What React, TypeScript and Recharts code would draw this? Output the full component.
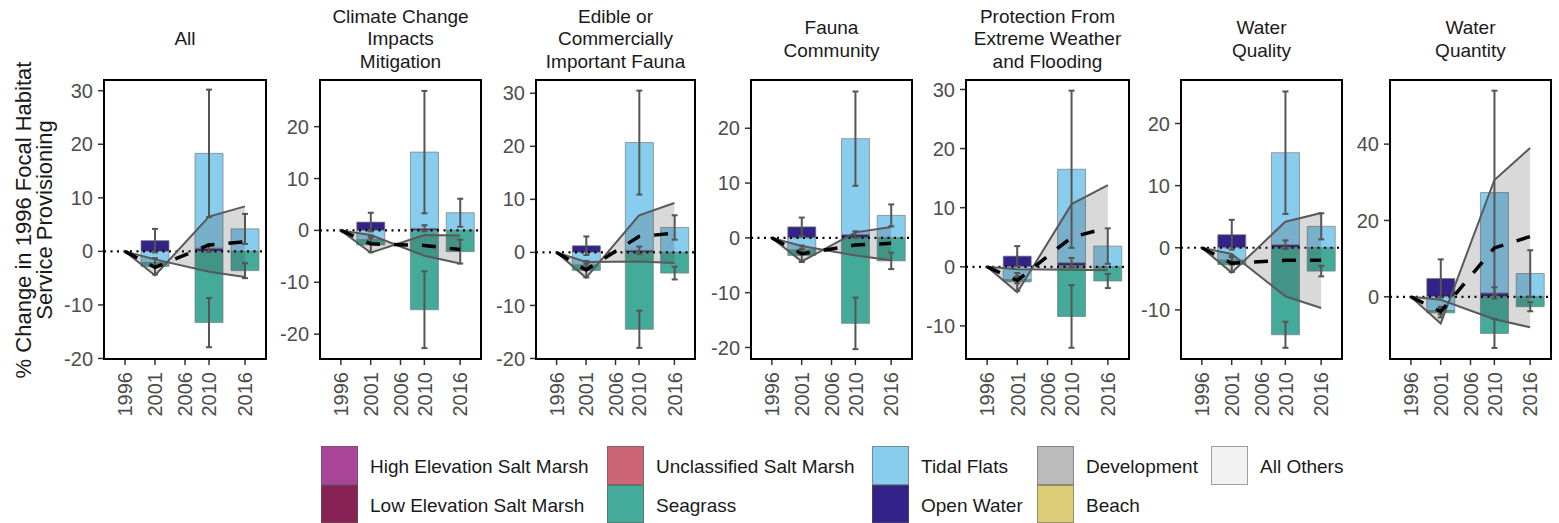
import React from "react";
import {
  Area,
  Bar,
  ComposedChart,
  ErrorBar,
  Line,
  ReferenceArea,
  ReferenceLine,
  XAxis,
  YAxis,
} from "recharts";

const FONT = '"Liberation Sans", Arial, sans-serif';

// survey years with data, and the year ticks on the x axis
const years = [1996, 2001, 2010, 2016];
const yearTicks = [1996, 2001, 2006, 2010, 2016];

const panelTitles = [
  ["All"],
  ["Climate Change", "Impacts", "Mitigation"],
  ["Edible or", "Commercially", "Important Fauna"],
  ["Fauna", "Community"],
  ["Protection From", "Extreme Weather", "and Flooding"],
  ["Water", "Quality"],
  ["Water", "Quantity"],
];

// one row per panel, one value per survey year
const beach = [
  [0, 0, 0, 0],
  [0, 0, 0, 0],
  [0, 0, 0, 0],
  [0, 0, 0, 0],
  [0, 0, 0.2, 0],
  [0, 0, 0, 0],
  [0, 0, 0, 0],
];
const openWater = [
  [0, 2.0, 0.6, 0],
  [0, 1.6, 0.4, 0],
  [0, 1.25, 0.4, 0],
  [0, 2.0, 0.6, 0],
  [0, 1.8, 0.5, 0],
  [0, 2.1, 0.5, 0],
  [0, 4.8, 1.0, 0],
];
const tidalFlats = [
  [0, -2.1, 17.7, 4.2],
  [0, -1.8, 14.7, 3.4],
  [0, -2.4, 20.3, 4.7],
  [0, -2.2, 17.5, 4.1],
  [0, -2.2, 15.8, 3.5],
  [0, -2.0, 14.8, 3.45],
  [0, -3.6, 26.3, 6.1],
];
const seagrass = [
  [0, -0.7, -13.3, -3.6],
  [0, -1.0, -15.3, -4.1],
  [0, -1.0, -14.5, -3.9],
  [0, -1.0, -15.6, -4.2],
  [0, -0.35, -8.4, -2.4],
  [0, -0.7, -14.0, -3.75],
  [0, -0.6, -9.6, -2.6],
];

// error bar half-widths
const openWaterErr = [
  [0, 2.2, 0.7, 0],
  [0, 1.8, 0.6, 0],
  [0, 1.75, 0.7, 0],
  [0, 1.7, 0.6, 0],
  [0, 1.7, 0.8, 0],
  [0, 2.4, 0.7, 0],
  [0, 5.0, 1.5, 0],
];
const tidalFlatsErr = [
  [0, 0.8, 11.9, 2.8],
  [0, 0.8, 11.8, 2.7],
  [0, 0.8, 9.8, 2.3],
  [0, 0.8, 8.6, 2.0],
  [0, 0.6, 13.3, 3.0],
  [0, 0.7, 9.85, 2.1],
  [0, 1.0, 26.7, 6.1],
];
const seagrassErr = [
  [0, 1.5, 4.6, 1.4],
  [0, 1.4, 7.4, 2.3],
  [0, 1.3, 3.5, 1.2],
  [0, 1.2, 4.7, 1.5],
  [0, 1.5, 5.3, 1.2],
  [0, 1.2, 2.1, 0.85],
  [0, 1.2, 3.8, 1.2],
];

// ribbon edges and the dashed mean line
const ribbonA = [
  [0, -4.5, 6.5, 8.4],
  [0, -4.3, -0.9, -1.0],
  [0, -4.8, 7.0, 9.3],
  [0, -4.3, 1.0, 2.0],
  [0, -4.3, 10.6, 13.8],
  [0, -4.0, 4.2, 5.6],
  [0, -7.0, 30.6, 39.0],
];
const ribbonB = [
  [0, -1.5, -3.8, -4.8],
  [0, -0.9, -4.9, -6.4],
  [0, -1.8, -1.7, -2.0],
  [0, -1.5, -3.2, -4.1],
  [0, -0.4, -0.5, -0.6],
  [0, -1.0, -7.8, -9.7],
  [0, -0.8, -5.9, -8.0],
];
const meanChange = [
  [0, -3.0, 1.2, 1.8],
  [0, -2.6, -2.9, -3.7],
  [0, -3.3, 3.0, 3.6],
  [0, -2.9, -1.3, -1.0],
  [0, -2.3, 5.0, 6.6],
  [0, -2.5, -2.0, -2.0],
  [0, -3.9, 12.8, 15.8],
];

const yDomains: [number, number][] = [
  [-20.1, 32],
  [-24.8, 29],
  [-20.1, 32.5],
  [-22.1, 28.8],
  [-15.6, 31.6],
  [-17.9, 27],
  [-16.3, 56.8],
];
const yTicks = [
  [-20, -10, 0, 10, 20, 30],
  [-20, -10, 0, 10, 20],
  [-20, -10, 0, 10, 20, 30],
  [-20, -10, 0, 10, 20],
  [-10, 0, 10, 20, 30],
  [-10, 0, 10, 20],
  [0, 20, 40],
];

const habitats = [
  "High Elevation Salt Marsh",
  "Low Elevation Salt Marsh",
  "Unclassified Salt Marsh",
  "Seagrass",
  "Tidal Flats",
  "Open Water",
  "Development",
  "Beach",
  "All Others",
];
const habitatColors = [
  "#AA4499",
  "#882255",
  "#CC6677",
  "#44AA99",
  "#88CCEE",
  "#332288",
  "#BBBBBB",
  "#DDCC77",
  "#F2F2F2",
];

// layout
const plotX = [
  [104, 266],
  [320, 481],
  [536, 695],
  [751, 912],
  [966, 1129],
  [1181, 1342],
  [1390, 1551],
];
const X_DOMAIN: [number, number] = [1992.5, 2019.5];
const AXIS_W = 60;
const PLOT_TOP = 80;
const PLOT_H = 279;
const legendColX = [321, 607, 872, 1037, 1211];

const XTick = (props: any) => {
  const { x, y, payload } = props;
  return (
    <text
      x={x}
      y={y}
      dy="0.36em"
      textAnchor="end"
      transform={`rotate(-90, ${x}, ${y})`}
      fontSize={20}
      fontFamily={FONT}
      fill="#4d4d4d"
    >
      {payload.value}
    </text>
  );
};

const barStyle = { stroke: "#7a7a7a", strokeWidth: 1, strokeOpacity: 0.7 };
const errStyle = { stroke: "#555", strokeWidth: 2, width: 3 };

const Panel = ({ index }: { index: number }) => {
  const [left, right] = plotX[index];
  const plotW = right - left;
  const yDomain = yDomains[index];
  const data = years.map((year, i) => ({
    year,
    beach: beach[index][i],
    openWater: openWater[index][i],
    tidalFlats: tidalFlats[index][i],
    seagrass: seagrass[index][i],
    openWaterErr: openWaterErr[index][i],
    tidalFlatsErr: tidalFlatsErr[index][i],
    seagrassErr: seagrassErr[index][i],
    ribbon: [ribbonB[index][i], ribbonA[index][i]],
    mean: meanChange[index][i],
  }));

  return (
    <>
      <div
        style={{
          position: "absolute",
          left,
          top: 0,
          width: plotW,
          height: 79,
          display: "flex",
          flexDirection: "column",
          justifyContent: "center",
          alignItems: "center",
          fontFamily: FONT,
          fontSize: 19,
          lineHeight: "22.5px",
          color: "#1a1a1a",
          textAlign: "center",
          whiteSpace: "nowrap",
        }}
      >
        {panelTitles[index].map((t) => (
          <div key={t}>{t}</div>
        ))}
      </div>
      <div style={{ position: "absolute", left: left - AXIS_W, top: 0 }}>
        <ComposedChart
          width={AXIS_W + plotW + 6}
          height={PLOT_TOP + PLOT_H + 61}
          data={data}
          stackOffset="sign"
          margin={{ top: PLOT_TOP, right: 6, bottom: 1, left: 0 }}
        >
          <XAxis
            dataKey="year"
            type="number"
            domain={X_DOMAIN}
            ticks={yearTicks}
            interval={0}
            allowDataOverflow
            axisLine={false}
            tickSize={6}
            tickMargin={7}
            tickLine={{ stroke: "#333", strokeWidth: 1.5 }}
            height={60}
            tick={<XTick />}
          />
          <YAxis
            type="number"
            domain={yDomain}
            ticks={yTicks[index]}
            interval={0}
            allowDataOverflow
            width={AXIS_W}
            axisLine={false}
            tickSize={6}
            tickMargin={5}
            tickLine={{ stroke: "#333", strokeWidth: 1.5 }}
            tick={{ fontSize: 20, fill: "#4d4d4d", fontFamily: FONT }}
          />
          <Bar dataKey="beach" stackId="s" fill="#DDCC77" barSize={28} {...barStyle} isAnimationActive={false} />
          <Bar dataKey="openWater" stackId="s" fill="#332288" barSize={28} {...barStyle} isAnimationActive={false}>
            <ErrorBar dataKey="openWaterErr" direction="y" {...errStyle} />
          </Bar>
          <Bar dataKey="tidalFlats" stackId="s" fill="#88CCEE" barSize={28} {...barStyle} isAnimationActive={false}>
            <ErrorBar dataKey="tidalFlatsErr" direction="y" {...errStyle} />
          </Bar>
          <Bar dataKey="seagrass" stackId="s" fill="#44AA99" barSize={28} {...barStyle} isAnimationActive={false}>
            <ErrorBar dataKey="seagrassErr" direction="y" {...errStyle} />
          </Bar>
          <ReferenceLine
            y={0}
            stroke="#000"
            strokeWidth={2.2}
            strokeDasharray="2 4.5"
            {...({ zIndex: 320 } as any)}
          />
          <Area
            dataKey="ribbon"
            type="linear"
            fill="#333"
            fillOpacity={0.19}
            stroke="#595959"
            strokeWidth={2}
            dot={false}
            activeDot={false}
            isAnimationActive={false}
            {...({ zIndex: 350 } as any)}
          />
          <Line
            dataKey="mean"
            type="linear"
            stroke="#000"
            strokeWidth={3.5}
            strokeDasharray="14 14"
            dot={false}
            activeDot={false}
            isAnimationActive={false}
            {...({ zIndex: 400 } as any)}
          />
          <ReferenceArea
            x1={X_DOMAIN[0]}
            x2={X_DOMAIN[1]}
            y1={yDomain[0]}
            y2={yDomain[1]}
            fill="none"
            stroke="#000"
            strokeWidth={2}
            ifOverflow="visible"
            {...({ zIndex: 600 } as any)}
          />
        </ComposedChart>
      </div>
    </>
  );
};

export default function App() {
  return (
    <div
      style={{
        position: "absolute",
        left: 0,
        top: 0,
        width: 1559,
        height: 523,
        overflow: "hidden",
        background: "#fff",
        fontFamily: FONT,
      }}
    >
      <div
        style={{
          position: "absolute",
          left: 34.5 - 180,
          top: 219.5 - 22,
          width: 360,
          height: 44,
          transform: "rotate(-90deg)",
          textAlign: "center",
          fontSize: 22,
          lineHeight: "21px",
          color: "#1a1a1a",
          whiteSpace: "nowrap",
        }}
      >
        <div>% Change in 1996 Focal Habitat</div>
        <div>Service Provisioning</div>
      </div>
      {plotX.map((_, i) => (
        <Panel key={i} index={i} />
      ))}
      {habitats.map((name, i) => {
        const col = Math.floor(i / 2);
        const row = i % 2;
        const top = 446 + row * 38.5;
        const left = legendColX[col];
        return (
          <React.Fragment key={name}>
            <div
              style={{
                position: "absolute",
                left,
                top,
                width: 37,
                height: 38.5,
                boxSizing: "border-box",
                background: habitatColors[i],
                border: "1px solid rgba(90,90,90,0.55)",
              }}
            />
            <div
              style={{
                position: "absolute",
                left: left + 49,
                top: top + 2,
                height: 38.5,
                lineHeight: "38.5px",
                fontSize: 19,
                color: "#1a1a1a",
                whiteSpace: "nowrap",
              }}
            >
              {name}
            </div>
          </React.Fragment>
        );
      })}
    </div>
  );
}
